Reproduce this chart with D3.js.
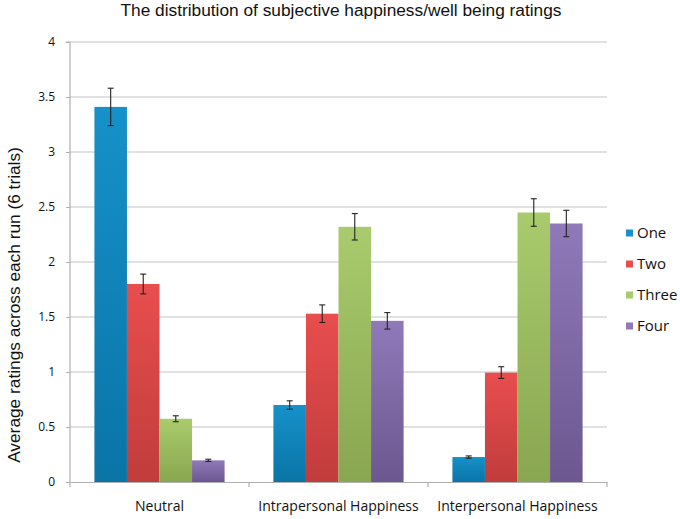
<!DOCTYPE html>
<html><head><meta charset="utf-8">
<script src="https://cdn.jsdelivr.net/npm/d3@7"></script>
<style>
body{margin:0;background:#fff;}
svg{display:block;}
.cond{font-family:"Open Sans",sans-serif;}
</style></head>
<body><svg id="c" width="680" height="519"></svg>
<script>
const categories = ["Neutral", "Intrapersonal Happiness", "Interpersonal Happiness"];
const seriesNames = ["One", "Two", "Three", "Four"];
const valuesOne   = [3.41, 0.70, 0.227];
const valuesTwo   = [1.80, 1.53, 0.995];
const valuesThree = [0.575, 2.32, 2.45];
const valuesFour  = [0.197, 1.465, 2.35];
const errOne   = [0.17, 0.038, 0.01];
const errTwo   = [0.09, 0.08, 0.053];
const errThree = [0.027, 0.12, 0.125];
const errFour  = [0.01, 0.075, 0.12];
const yTicks = [0, 0.5, 1, 1.5, 2, 2.5, 3, 3.5, 4];
const colors = [["#1691c9","#0a74a6"],["#e84e4e","#c13c3c"],["#a9cb6d","#89a650"],["#9079b8","#6c5790"]];

const values = [valuesOne, valuesTwo, valuesThree, valuesFour];
const errs = [errOne, errTwo, errThree, errFour];

const svg = d3.select("#c");
const mLeft = 70, mRight = 607, mTop = 42, mBottom = 482;
const x = d3.scaleBand().domain(categories).range([mLeft, mRight]).paddingInner(0).paddingOuter(0);
const xi = d3.scaleBand().domain(seriesNames).range([0, x.bandwidth()]).paddingInner(0).paddingOuter(0.75);
const y = d3.scaleLinear().domain([0, 4]).range([mBottom, mTop]);

const defs = svg.append("defs");
colors.forEach((c, i) => {
  const g = defs.append("linearGradient").attr("id", "g" + i).attr("x1", 0).attr("x2", 0).attr("y1", 0).attr("y2", 1);
  g.append("stop").attr("offset", "0%").attr("stop-color", c[0]);
  g.append("stop").attr("offset", "100%").attr("stop-color", c[1]);
});

// gridlines
svg.append("g").selectAll("line").data(yTicks.filter(t => t > 0)).join("line")
  .attr("x1", mLeft).attr("x2", mRight).attr("y1", d => y(d)).attr("y2", d => y(d))
  .attr("stroke", "#c4c4c4").attr("stroke-width", 1.2);

// title
svg.append("text").attr("x", 341).attr("y", 16).attr("text-anchor", "middle")
  .attr("font-family", "Liberation Sans, Arial, sans-serif").attr("font-size", 17.3).attr("fill", "#111")
  .text("The distribution of subjective happiness/well being ratings");

// y label
svg.append("text").attr("transform", `translate(20,305) rotate(-90)`)
  .attr("text-anchor", "middle").attr("font-family", "Liberation Sans, Arial, sans-serif")
  .attr("font-size", 17.3).attr("fill", "#111").text("Average ratings across each run (6 trials)");

// bars
const gBars = svg.append("g");
seriesNames.forEach((s, si) => {
  gBars.append("g").selectAll("rect").data(categories).join("rect")
    .attr("x", c => x(c) + xi(s)).attr("width", xi.bandwidth())
    .attr("y", (c, ci) => y(values[si][ci])).attr("height", (c, ci) => y(0) - y(values[si][ci]))
    .attr("fill", `url(#g${si})`);
});
// error bars
seriesNames.forEach((s, si) => {
  const g = gBars.append("g").attr("stroke", "#222").attr("stroke-width", 1.1);
  categories.forEach((c, ci) => {
    const cx = x(c) + xi(s) + xi.bandwidth() / 2;
    const v = values[si][ci], e = errs[si][ci];
    g.append("line").attr("x1", cx).attr("x2", cx).attr("y1", y(v + e)).attr("y2", y(v - e));
    g.append("line").attr("x1", cx - 3).attr("x2", cx + 3).attr("y1", y(v + e)).attr("y2", y(v + e));
    g.append("line").attr("x1", cx - 3).attr("x2", cx + 3).attr("y1", y(v - e)).attr("y2", y(v - e));
  });
});

// y axis
const yAxis = svg.append("g").attr("transform", `translate(${mLeft},0)`)
  .call(d3.axisLeft(y).tickValues(yTicks).tickSize(4).tickPadding(11).tickFormat(d3.format("")));
yAxis.select(".domain").attr("stroke", "#b0b0b0").attr("stroke-width", 1.2).attr("d", `M-4,${mTop}H0V${mBottom}`);
yAxis.selectAll(".tick line").attr("stroke", "#b0b0b0");
yAxis.selectAll(".tick text").attr("class", "cond").attr("font-size", 12).attr("fill", "#111");

// x axis
const xAxis = svg.append("g").attr("transform", `translate(0,${mBottom})`)
  .call(d3.axisBottom(x).tickSize(0).tickPadding(19));
xAxis.select(".domain").attr("stroke", "#b0b0b0").attr("stroke-width", 1.2);
xAxis.selectAll(".tick text").attr("class", "cond").attr("font-size", 14).attr("fill", "#111");
const sepTicks = [x(categories[0]), x(categories[1]), x(categories[2]), mRight];
xAxis.append("g").selectAll("line").data(sepTicks).join("line")
  .attr("x1", d => d).attr("x2", d => d).attr("y1", 0).attr("y2", 5).attr("stroke", "#b0b0b0").attr("stroke-width", 1.2);

// legend
const leg = svg.append("g").attr("transform", "translate(626,233)");
seriesNames.forEach((s, i) => {
  const g = leg.append("g").attr("transform", `translate(0,${i * 31})`);
  g.append("rect").attr("x", 0).attr("y", -3.5).attr("width", 7).attr("height", 7).attr("fill", colors[i][0]);
  g.append("text").attr("x", 11).attr("y", 0).attr("dy", "0.35em").attr("class", "cond")
    .attr("font-size", 15).attr("fill", "#111").text(s);
});
</script></body></html>
